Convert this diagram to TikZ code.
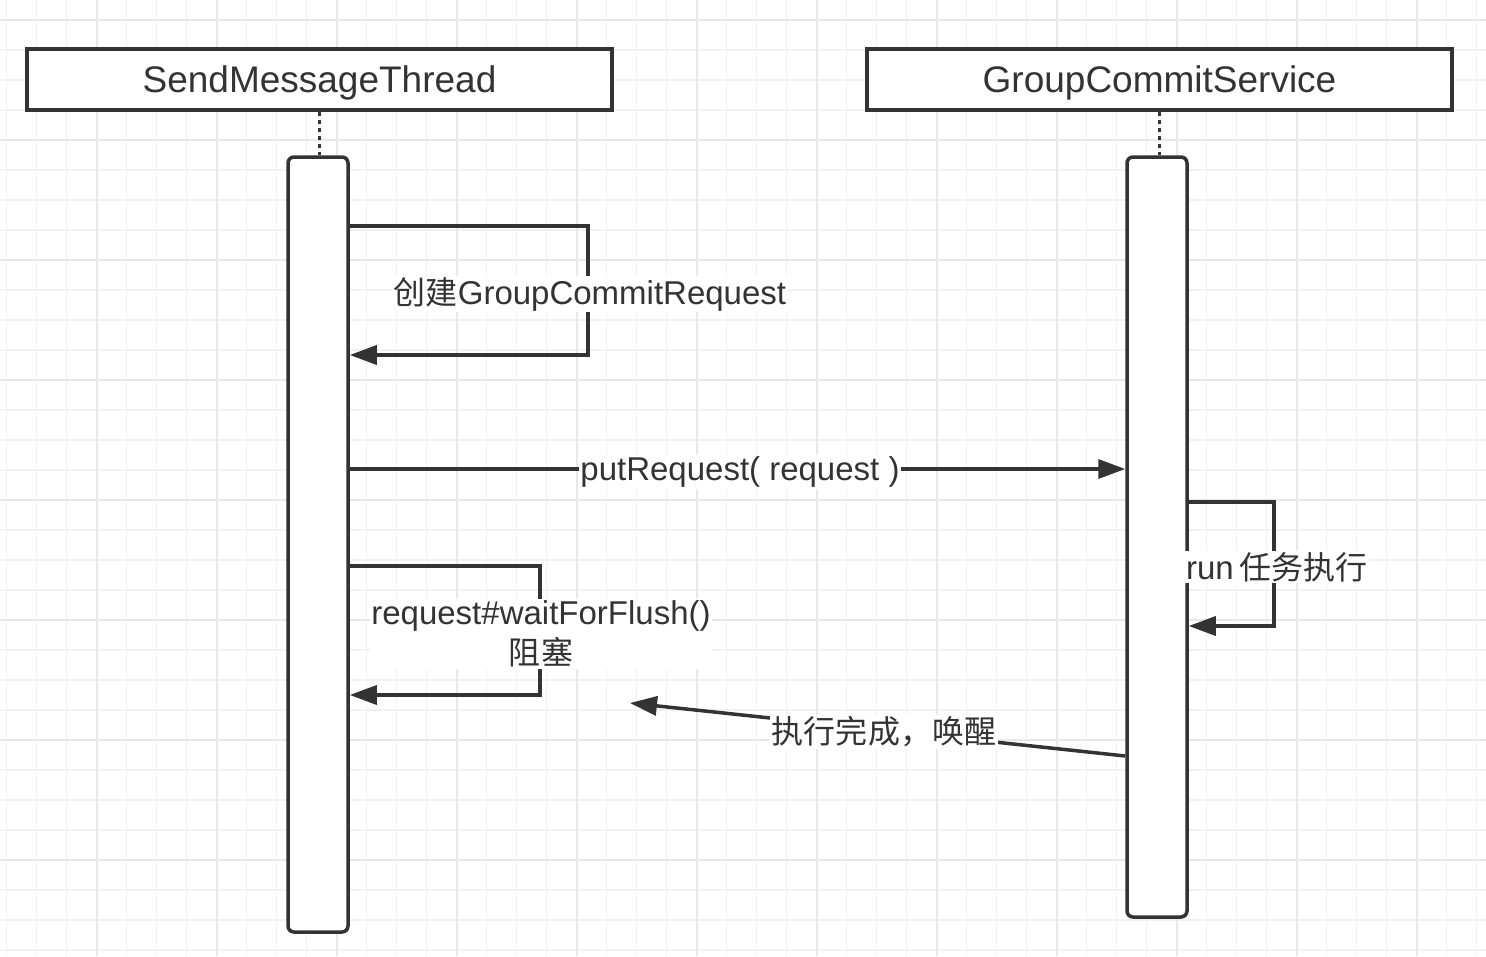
\documentclass[tikz,border=0pt]{standalone}
\usepackage{fontspec}
\setmainfont{Liberation Sans}
\newfontfamily\cjk[Scale=0.97]{Noto Sans CJK SC}
\usetikzlibrary{arrows.meta}
\definecolor{ink}{HTML}{333333}
\definecolor{gridminor}{HTML}{F1F1F1}
\definecolor{gridmajor}{HTML}{E8E8E8}
\begin{document}
\begin{tikzpicture}[x=1pt,y=-1pt,
  hdr/.style={draw=ink, line width=3.5pt, fill=white, minimum width=585pt, minimum height=61pt, inner sep=0pt, text=ink, text height=26.5pt, text depth=0pt, font=\fontsize{37}{44}\selectfont},
  actbox/.style={draw=ink, line width=3.5pt, fill=white, minimum width=60pt, rounded corners=6pt, inner sep=0pt},
  lifeline/.style={draw=ink, line width=3.5pt, dash pattern=on 4pt off 4pt},
  msg/.style={draw=ink, line width=3.5pt, -{Triangle[length=27pt,width=19pt]}},
  lbl/.style={fill=white, text=ink, inner sep=1.5pt, font=\fontsize{33}{40}\selectfont, align=center}]
\useasboundingbox (0,0) rectangle (1486,956);
\fill[white] (0,0) rectangle (1486,956);
% grid
\foreach \i in {0,...,49} \draw[gridminor, line width=1.3pt] ({6.7+30*\i},0) -- ({6.7+30*\i},956);
\foreach \j in {0,...,31} \draw[gridminor, line width=1.3pt] (0,{20+30*\j}) -- (1486,{20+30*\j});
\foreach \i in {0,...,11} \draw[gridmajor, line width=2pt] ({96.7+120*\i},0) -- ({96.7+120*\i},956);
\foreach \j in {0,...,7} \draw[gridmajor, line width=2pt] (0,{20+120*\j}) -- (1486,{20+120*\j});
% headers
\node[hdr] (h1) at (319.5,79.5) {SendMessageThread};
\node[hdr] (h2) at (1159.5,79.5) {GroupCommitService};
% activations
\node[actbox, minimum height=775pt] (a1) at (318,544.5) {};
\node[actbox, minimum height=760pt] (a2) at (1157,537) {};
% lifelines
\draw[lifeline] (h1.south) -- (h1.south |- a1.north);
\draw[lifeline] (h2.south) -- (h2.south |- a2.north);
% self message 1
\coordinate (c1a) at (588,226);
\coordinate (c1b) at (588,355);
\draw[msg] (a1.east |- c1a) -- (c1a) -- (c1b) -- (a1.east |- c1b);
\node[lbl] (l1) at (590,294) {{\cjk 创建}GroupCommitRequest};
% putRequest
\coordinate (c2) at (0,469);
\draw[msg] (a1.east |- c2) -- (a2.west |- c2);
\node[lbl] (l2) at (740,472) {putRequest( request )};
% run
\coordinate (c3a) at (1274,502);
\coordinate (c3b) at (1274,626);
\draw[msg] (a2.east |- c3a) -- (c3a) -- (c3b) -- (a2.east |- c3b);
\node[lbl] (l3) at (1277,567) {run\hspace{6pt}{\cjk 任务执行}};
% waitForFlush
\coordinate (c4a) at (540,566);
\coordinate (c4b) at (540,695);
\draw[msg] (a1.east |- c4a) -- (c4a) -- (c4b) -- (a1.east |- c4b);
\node[lbl] (l4) at (541,634) {request\#waitForFlush()\\{\cjk 阻塞}};
% wake up
\coordinate (c5a) at (0,756);
\coordinate (c5b) at (630,703);
\draw[msg] (a2.west |- c5a) -- (c5b);
\node[lbl] (l5) at (884,732) {{\cjk 执行完成，唤醒}};
\end{tikzpicture}
\end{document}
